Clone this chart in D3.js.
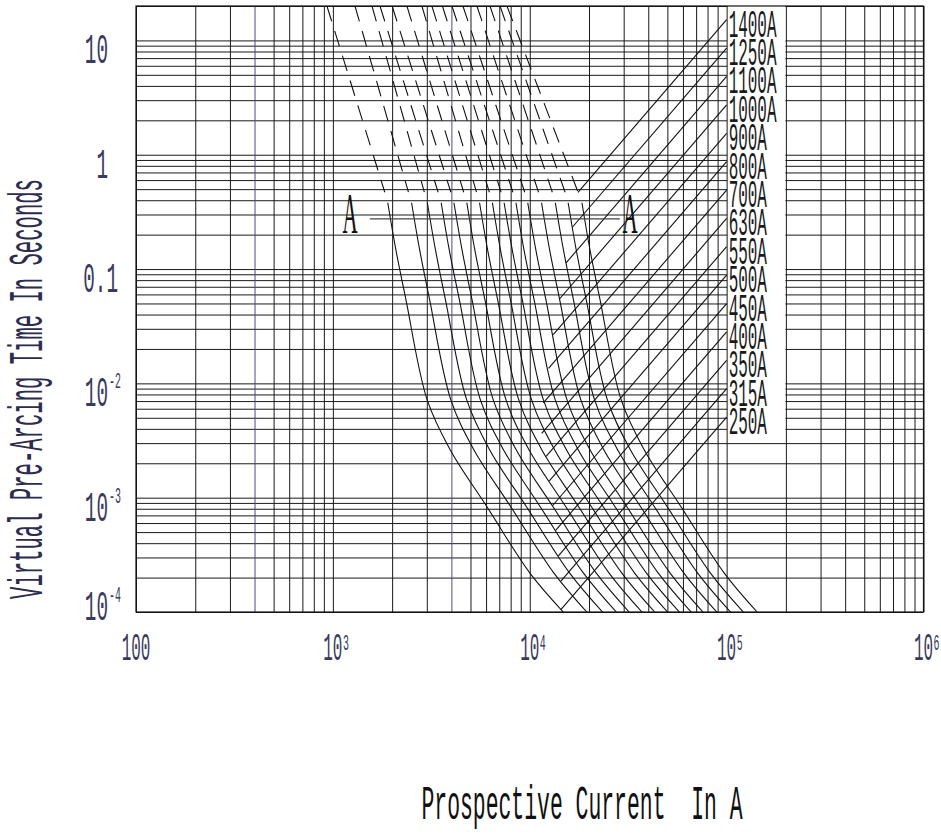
<!DOCTYPE html>
<html>
<head>
<meta charset="utf-8">
<script src="https://cdn.jsdelivr.net/npm/d3@7"></script>
<style>
  body { margin: 0; background: #fff; }
</style>
</head>
<body>
<svg id="chart" width="941" height="834"></svg>
<script>
// fuse ratings, bottom (smallest) to top (largest)
var ratings = ["250A", "315A", "350A", "400A", "450A", "500A", "550A", "630A",
               "700A", "800A", "900A", "1000A", "1100A", "1250A", "1400A"];

// solid pre-arcing curves: current (A) read at these times (s)
var solidTimes = [0.38, 0.147, 0.054, 0.0072, 0.00263, 0.00083, 0.00022, 0.0001];
var solidCurrents = [
    [1900, 2090, 2350, 3010, 3940, 6070, 10000, 14800],
    [2510, 2760, 3100, 3970, 5200, 8020, 13240, 19500],
    [3020, 3320, 3730, 4780, 6250, 9640, 15920, 23440],
    [3550, 3900, 4390, 5610, 7350, 11320, 18710, 27540],
    [4120, 4530, 5090, 6520, 8530, 13150, 21730, 31990],
    [4790, 5260, 5920, 7570, 9910, 15280, 25240, 37150],
    [5560, 6110, 6870, 8790, 11510, 17740, 29310, 43150],
    [6460, 7100, 7980, 10210, 13370, 20610, 34040, 50120],
    [7410, 8150, 9160, 11720, 15350, 23660, 39080, 57540],
    [8510, 9350, 10520, 13460, 17620, 27160, 44870, 66070],
    [9770, 10740, 12080, 15450, 20230, 31190, 51520, 75860],
    [11480, 12620, 14190, 18160, 23770, 36640, 60530, 89130],
    [13490, 14830, 16670, 21330, 27930, 43050, 71120, 104700],
    [15670, 17220, 19360, 24770, 32430, 50000, 82600, 121600],
    [18410, 20230, 22750, 29110, 38110, 58750, 97050, 142900]
];

// dashed upper parts: from 20 s down to 0.47 s
var dashTimes = [20, 0.47];
var dashTopCurrent = [933, 1295, 1580, 1735, 2000, 2378, 2833, 3184, 3600, 4026, 4577, 5393, 6283, 7063, 7660];
var dashEndCurrent = [1835, 2420, 2915, 3425, 3975, 4620, 5365, 6235, 7150, 8210, 9430, 11080, 13020, 15120, 17600];

// diagonal lines running up to the rating labels at 100 kA
var cutEndCurrent = 1e5;
var cutEndTime = [0.00507, 0.00898, 0.0159, 0.0282, 0.0499, 0.0883, 0.157, 0.277,
                  0.491, 0.871, 1.54, 2.73, 4.84, 8.57, 15.2];
var cutStartCurrent = [14390, 14390, 13980, 13540, 13040, 12570, 12110, 11500,
                       11720, 12460, 13160, 14160, 15290, 16450, 17580];
var cutStartTime = [0.000105, 0.000186, 0.00031, 0.000517, 0.00085, 0.0014, 0.0023, 0.00366,
                    0.00675, 0.0135, 0.0267, 0.0547, 0.1131, 0.232, 0.469];

// A - A section line
var sectionCurrents = [1541, 28700];
var sectionTime = 0.275;
var sectionLetterCurrents = [1222, 32300];

// tick labels
var xTickValues = [100, 1e3, 1e4, 1e5, 1e6];
var xTickBase = ["100", "10", "10", "10", "10"];
var xTickSup = ["", "3", "4", "5", "6"];
var yTickValues = [10, 1, 0.1, 0.01, 0.001, 0.0001];
var yTickBase = ["10", "1", "0.1", "10", "10", "10"];
var yTickSup = ["", "", "", "-2", "-3", "-4"];

var monoFont = "'Liberation Mono', 'DejaVu Sans Mono', monospace";
var tickColor = "#3a3a5c";

var svg = d3.select("#chart");

var plotLeft = 136, plotRight = 923.5, plotTop = 6, plotBottom = 612;
var x = d3.scaleLog().domain([100, 1e6]).range([plotLeft, plotRight]);
var y = d3.scaleLog().domain([1e-4, 20]).range([plotBottom, plotTop]);

svg.append("defs").append("clipPath")
    .attr("id", "plot-clip")
    .append("rect")
    .attr("x", plotLeft)
    .attr("y", plotTop)
    .attr("width", plotRight - plotLeft)
    .attr("height", plotBottom - plotTop);

//horizontal grid lines
var hGrid = svg.append("g")
    .attr("transform", "translate(" + plotLeft + ",0)")
    .call(d3.axisLeft(y).tickValues(y.ticks()).tickSize(-(plotRight - plotLeft)).tickFormat(""));
hGrid.select(".domain").remove();
hGrid.selectAll("line")
    .attr("stroke", "#1a1a1a")
    .attr("stroke-width", 1);

//white box behind the rating labels
svg.append("rect")
    .attr("x", x(1e5) + 0.5)
    .attr("y", plotTop)
    .attr("width", x(2e5) - x(1e5) - 1)
    .attr("height", y(0.003) - plotTop - 1)
    .attr("fill", "#fff");

//vertical grid lines
var vGrid = svg.append("g")
    .attr("transform", "translate(0," + plotBottom + ")")
    .call(d3.axisBottom(x).tickValues(x.ticks()).tickSize(-(plotBottom - plotTop)).tickFormat(""));
vGrid.select(".domain").remove();
vGrid.selectAll(".tick line")
    .attr("stroke", function (d) {
        return (d === 400 || d === 4000) ? "#4a4a86" : "#1a1a1a";
    })
    .attr("stroke-width", 1);

svg.append("rect")
    .attr("x", plotLeft)
    .attr("y", plotTop)
    .attr("width", plotRight - plotLeft)
    .attr("height", plotBottom - plotTop)
    .attr("fill", "none")
    .attr("stroke", "#111")
    .attr("stroke-width", 1.2);

var plot = svg.append("g").attr("clip-path", "url(#plot-clip)");

var line = d3.line()
    .x(function (d) { return x(d[0]); })
    .y(function (d) { return y(d[1]); });

var smooth = d3.line()
    .x(function (d) { return x(d[0]); })
    .y(function (d) { return y(d[1]); })
    .curve(d3.curveCatmullRom.alpha(0.5));

//dashed long-time parts
plot.selectAll(".dash-curve")
    .data(ratings)
    .enter()
    .append("path")
    .attr("class", "dash-curve")
    .attr("d", function (d, i) {
        return line([[dashTopCurrent[i], dashTimes[0]], [dashEndCurrent[i], dashTimes[1]]]);
    })
    .attr("fill", "none")
    .attr("stroke", "#111")
    .attr("stroke-width", 1.1)
    .attr("stroke-dasharray", "16,10");

//solid pre-arcing curves
plot.selectAll(".solid-curve")
    .data(ratings)
    .enter()
    .append("path")
    .attr("class", "solid-curve")
    .attr("d", function (d, i) {
        return smooth(solidCurrents[i].map(function (c, j) { return [c, solidTimes[j]]; }));
    })
    .attr("fill", "none")
    .attr("stroke", "#111")
    .attr("stroke-width", 1.1);

//diagonals up to labels
plot.selectAll(".cut-line")
    .data(ratings)
    .enter()
    .append("path")
    .attr("class", "cut-line")
    .attr("d", function (d, i) {
        return line([[cutStartCurrent[i], cutStartTime[i]], [cutEndCurrent, cutEndTime[i]]]);
    })
    .attr("fill", "none")
    .attr("stroke", "#111")
    .attr("stroke-width", 1.1);

//A - A line
plot.append("path")
    .attr("d", line([[sectionCurrents[0], sectionTime], [sectionCurrents[1], sectionTime]]))
    .attr("stroke", "#444")
    .attr("stroke-width", 1.2);

sectionLetterCurrents.forEach(function (c) {
    svg.append("text")
        .attr("transform", "translate(" + x(c) + "," + (y(sectionTime) + 14) + ") scale(0.36,1)")
        .attr("text-anchor", "middle")
        .attr("font-family", "'Liberation Serif', 'DejaVu Serif', serif")
        .attr("font-size", 58)
        .attr("fill", "#111")
        .text("A");
});

//rating labels
svg.selectAll(".rating-label")
    .data(ratings)
    .enter()
    .append("text")
    .attr("class", "rating-label")
    .attr("transform", function (d, i) {
        return "translate(" + (x(cutEndCurrent) + 2) + "," + (y(cutEndTime[i]) + 17) + ") scale(0.42,1)";
    })
    .attr("font-family", monoFont)
    .attr("font-size", 38)
    .attr("fill", "#1a1a1a")
    .text(function (d) { return d; });

//x tick labels
xTickValues.forEach(function (v, i) {
    var px = x(v);
    var g = svg.append("g");
    g.append("text")
        .attr("transform", "translate(" + px + ",660) scale(0.42,1)")
        .attr("text-anchor", "middle")
        .attr("font-family", monoFont)
        .attr("font-size", 38)
        .attr("fill", tickColor)
        .text(xTickBase[i]);
    if (xTickSup[i]) {
        g.append("text")
            .attr("transform", "translate(" + (px + 10) + ",650) scale(0.45,1)")
            .attr("font-family", monoFont)
            .attr("font-size", 22)
            .attr("fill", tickColor)
            .text(xTickSup[i]);
    }
});

//y tick labels
yTickValues.forEach(function (v, i) {
    var py = y(v) + (v === 1e-4 ? 8 : 23);
    var endX = yTickBase[i].indexOf(".") >= 0 ? 118 : 108;
    var g = svg.append("g");
    g.append("text")
        .attr("transform", "translate(" + endX + "," + py + ") scale(0.46,1)")
        .attr("text-anchor", "end")
        .attr("font-family", monoFont)
        .attr("font-size", 42)
        .attr("fill", tickColor)
        .text(yTickBase[i]);
    if (yTickSup[i]) {
        g.append("text")
            .attr("transform", "translate(" + (endX + 1) + "," + (py - 18) + ") scale(0.45,1)")
            .attr("font-family", monoFont)
            .attr("font-size", 22)
            .attr("fill", tickColor)
            .text(yTickSup[i]);
    }
});

//axis titles
svg.append("text")
    .attr("transform", "translate(42,389) rotate(-90) scale(0.42,1)")
    .attr("text-anchor", "middle")
    .attr("font-family", monoFont)
    .attr("font-size", 49)
    .attr("fill", "#2c2c4e")
    .text("Virtual Pre-Arcing Time In Seconds");

svg.append("text")
    .attr("transform", "translate(582,819) scale(0.446,1)")
    .attr("text-anchor", "middle")
    .attr("font-family", monoFont)
    .attr("font-size", 48)
    .attr("fill", "#111")
    .attr("xml:space", "preserve")
    .text("Prospective Current  In A");
</script>
</body>
</html>
